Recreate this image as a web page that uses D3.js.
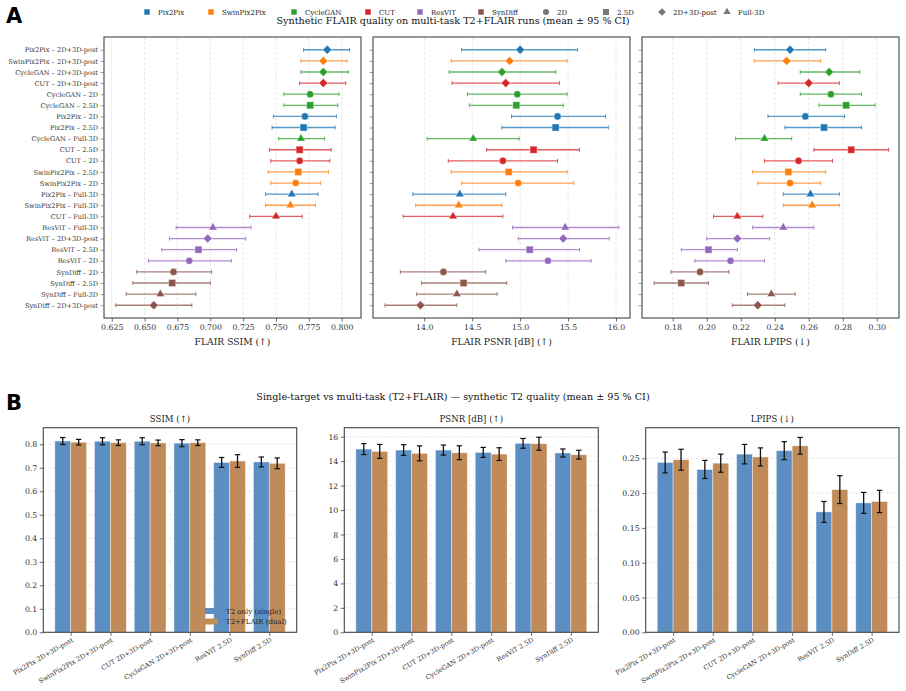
<!DOCTYPE html>
<html><head><meta charset="utf-8">
<script src="https://cdn.jsdelivr.net/npm/d3@7"></script>
<style>
body{margin:0;background:#fff;}
svg{display:block;font-family:"DejaVu Serif",serif;}
</style></head>
<body><svg id="c" width="906" height="691"></svg>
<script>
// ---------- DATA (Panel A) ----------
const models = ["Pix2Pix","SwinPix2Pix","CycleGAN","CUT","ResViT","SynDiff"];
const modelColors = ["#1f77b4","#ff7f0e","#2ca02c","#d62728","#9467bd","#8c564b"];
const dims = ["2D","2.5D","2D+3D-post","Full-3D"];
const rowModel = ["Pix2Pix","SwinPix2Pix","CycleGAN","CUT","CycleGAN","CycleGAN","Pix2Pix","Pix2Pix","CycleGAN","CUT","CUT","SwinPix2Pix","SwinPix2Pix","Pix2Pix","SwinPix2Pix","CUT","ResViT","ResViT","ResViT","ResViT","SynDiff","SynDiff","SynDiff","SynDiff"];
const rowDim = ["2D+3D-post","2D+3D-post","2D+3D-post","2D+3D-post","2D","2.5D","2D","2.5D","Full-3D","2.5D","2D","2.5D","2D","Full-3D","Full-3D","Full-3D","Full-3D","2D+3D-post","2.5D","2D","2D","2.5D","Full-3D","2D+3D-post"];
const ssimMean = [0.789,0.786,0.786,0.786,0.776,0.776,0.772,0.771,0.769,0.768,0.768,0.767,0.765,0.762,0.761,0.750,0.702,0.698,0.691,0.684,0.672,0.671,0.662,0.657];
const ssimLo   = [0.771,0.769,0.769,0.768,0.756,0.756,0.748,0.747,0.752,0.745,0.746,0.744,0.746,0.742,0.742,0.730,0.674,0.669,0.663,0.653,0.644,0.641,0.636,0.628];
const ssimHi   = [0.806,0.804,0.805,0.803,0.798,0.797,0.796,0.795,0.787,0.792,0.791,0.790,0.784,0.782,0.780,0.770,0.731,0.727,0.720,0.716,0.701,0.700,0.689,0.686];
const psnrMean = [15.00,14.89,14.81,14.85,14.97,14.96,15.39,15.37,14.51,15.14,14.82,14.88,14.98,14.37,14.36,14.30,15.47,15.45,15.10,15.29,14.20,14.41,14.34,13.96];
const psnrLo   = [14.39,14.28,14.26,14.29,14.45,14.47,14.91,14.81,14.03,14.65,14.25,14.28,14.39,13.88,13.91,13.78,14.92,14.98,14.57,14.85,13.75,13.97,13.92,13.59];
const psnrHi   = [15.60,15.49,15.37,15.41,15.49,15.45,15.89,15.92,14.99,15.62,15.39,15.49,15.56,14.85,14.81,14.82,16.03,15.93,15.62,15.74,14.64,14.86,14.76,14.34];
const lpipsMean= [0.249,0.247,0.272,0.260,0.273,0.282,0.258,0.269,0.234,0.285,0.254,0.248,0.249,0.261,0.262,0.218,0.245,0.218,0.201,0.214,0.196,0.185,0.238,0.230];
const lpipsLo  = [0.228,0.228,0.255,0.242,0.255,0.266,0.236,0.246,0.217,0.263,0.234,0.227,0.230,0.245,0.245,0.204,0.227,0.200,0.185,0.193,0.179,0.169,0.224,0.215];
const lpipsHi  = [0.270,0.267,0.290,0.278,0.291,0.299,0.281,0.291,0.250,0.307,0.274,0.270,0.267,0.278,0.278,0.233,0.263,0.237,0.218,0.234,0.213,0.201,0.252,0.246];
const ssimTicks = [0.625,0.650,0.675,0.700,0.725,0.750,0.775,0.800];
const psnrTicks = [14.0,14.5,15.0,15.5,16.0];
const lpipsTicks = [0.18,0.20,0.22,0.24,0.26,0.28,0.30];

// ---------- DATA (Panel B) ----------
const barCategories = ["Pix2Pix 2D+3D-post","SwinPix2Pix 2D+3D-post","CUT 2D+3D-post","CycleGAN 2D+3D-post","ResViT 2.5D","SynDiff 2.5D"];
const seriesNames = ["T2 only (single)","T2+FLAIR (dual)"];
const ssimSingle = [0.814,0.813,0.813,0.805,0.723,0.725];
const ssimSingleCI = [0.015,0.015,0.015,0.015,0.021,0.021];
const ssimDual = [0.809,0.807,0.806,0.807,0.729,0.719];
const ssimDualCI = [0.012,0.012,0.012,0.012,0.027,0.023];
const psnrSingle = [14.99,14.91,14.91,14.72,15.46,14.67];
const psnrSingleCI = [0.45,0.44,0.41,0.41,0.40,0.33];
const psnrDual = [14.80,14.64,14.69,14.58,15.43,14.53];
const psnrDualCI = [0.57,0.61,0.57,0.52,0.53,0.36];
const lpipsSingle = [0.244,0.234,0.256,0.261,0.173,0.186];
const lpipsSingleCI = [0.015,0.013,0.014,0.013,0.015,0.015];
const lpipsDual = [0.248,0.243,0.252,0.268,0.205,0.188];
const lpipsDualCI = [0.015,0.013,0.013,0.012,0.020,0.016];
const bSsimTicks = [0.0,0.1,0.2,0.3,0.4,0.5,0.6,0.7,0.8];
const bPsnrTicks = [0,2,4,6,8,10,12,14,16];
const bLpipsTicks = [0.00,0.05,0.10,0.15,0.20,0.25];

// ---------- DRAW ----------
const svg = d3.select("#c");
const colorOf = d3.scaleOrdinal().domain(models).range(modelColors);
const frameColor = "#444", tickText = "#333", gridColor = "#ddd";

function symbolPath(dim, cx, cy, scale) {
  const s = scale || 1;
  if (dim === "2D") return d3.symbol(d3.symbolCircle, 40*s*s)();
  if (dim === "2.5D") return d3.symbol(d3.symbolSquare, 50*s*s)();
  if (dim === "2D+3D-post") return d3.symbol(d3.symbolSquare, 40*s*s)();
  return d3.symbol(d3.symbolTriangle, 32*s*s)();
}
function symbolRot(dim){ return dim === "2D+3D-post" ? 45 : 0; }

// Letters
svg.append("text").attr("x",6).attr("y",23).attr("font-family","DejaVu Sans").attr("font-weight","bold").attr("font-size",21).attr("fill","#000").text("A");
svg.append("text").attr("x",6).attr("y",410).attr("font-family","DejaVu Sans").attr("font-weight","bold").attr("font-size",21).attr("fill","#000").text("B");

// Top title
svg.append("text").attr("x",453).attr("y",24).attr("text-anchor","middle").attr("font-size",9.6).attr("fill","#111")
  .text("Synthetic FLAIR quality on multi-task T2+FLAIR runs (mean ± 95 % CI)");

// Legend top
const legItems = models.map((m,i)=>({label:m, kind:"model", color:modelColors[i]}))
  .concat(dims.map(d=>({label:d, kind:"dim", dim:d})));
const legX = [147,211,294,368,420,481,546,606,662,727];
const leg = svg.append("g");
legItems.forEach((it,i)=>{
  const g = leg.append("g").attr("transform",`translate(${legX[i]},12)`);
  if (it.kind==="model") {
    g.append("path").attr("d",d3.symbol(d3.symbolSquare,30)()).attr("fill",it.color);
  } else {
    g.append("path").attr("d",symbolPath(it.dim,0,0,0.85)).attr("transform",`rotate(${symbolRot(it.dim)})`).attr("fill","#777");
  }
  g.append("text").attr("x",11).attr("y",2.5).attr("font-size",7).attr("fill","#222").text(it.label);
});

// Top panels
const nRows = rowModel.length;
const yTop = d3.scaleLinear().domain([-1.15, nRows-1+1.15]).range([37,318]);
const topPanels = [
  {x0:104,x1:361,domain:[0.6191,0.8147],mean:ssimMean,lo:ssimLo,hi:ssimHi,ticks:ssimTicks,fmt:d3.format(".3f"),label:"FLAIR SSIM (↑)",labels:true},
  {x0:373,x1:630,domain:[13.465,16.146],mean:psnrMean,lo:psnrLo,hi:psnrHi,ticks:psnrTicks,fmt:d3.format(".1f"),label:"FLAIR PSNR [dB] (↑)",labels:false},
  {x0:642,x1:899,domain:[0.1619,0.3131],mean:lpipsMean,lo:lpipsLo,hi:lpipsHi,ticks:lpipsTicks,fmt:d3.format(".2f"),label:"FLAIR LPIPS (↓)",labels:false}
];
topPanels.forEach(p=>{
  const x = d3.scaleLinear().domain(p.domain).range([p.x0,p.x1]);
  const g = svg.append("g");
  // grid
  g.selectAll(".grid").data(p.ticks).enter().append("line")
    .attr("x1",d=>x(d)).attr("x2",d=>x(d)).attr("y1",37).attr("y2",318)
    .attr("stroke",gridColor).attr("stroke-width",0.7).attr("stroke-dasharray","3,2");
  // x axis
  const xa = g.append("g").attr("transform","translate(0,318)")
    .call(d3.axisBottom(x).tickValues(p.ticks).tickFormat(p.fmt).tickSize(3.5).tickPadding(2.5));
  xa.select(".domain").remove();
  xa.selectAll("line").attr("stroke",frameColor).attr("stroke-width",0.8);
  xa.selectAll("text").attr("font-family","DejaVu Serif").attr("font-size",7.8).attr("fill",tickText);
  // y axis
  const ya = g.append("g").attr("transform",`translate(${p.x0},0)`)
    .call(d3.axisLeft(yTop).tickValues(d3.range(nRows)).tickSize(3.5).tickPadding(2.5)
      .tickFormat(i=> p.labels ? `${rowModel[i]} – ${rowDim[i]}` : ""));
  ya.select(".domain").remove();
  ya.selectAll("line").attr("stroke","#888").attr("stroke-width",0.8);
  ya.selectAll("text").attr("font-family","DejaVu Serif").attr("font-size",6.6).attr("fill",tickText);
  // error bars
  const rows = d3.range(nRows);
  g.selectAll(".eb").data(rows).enter().append("line")
    .attr("x1",i=>x(p.lo[i])).attr("x2",i=>x(p.hi[i])).attr("y1",i=>yTop(i)).attr("y2",i=>yTop(i))
    .attr("stroke",i=>colorOf(rowModel[i])).attr("stroke-width",1.3).attr("stroke-opacity",0.75);
  ["lo","hi"].forEach(k=>{
    g.selectAll(".cap"+k).data(rows).enter().append("line")
      .attr("x1",i=>x(p[k][i])).attr("x2",i=>x(p[k][i])).attr("y1",i=>yTop(i)-2).attr("y2",i=>yTop(i)+2)
      .attr("stroke",i=>colorOf(rowModel[i])).attr("stroke-width",1).attr("stroke-opacity",0.75);
  });
  // markers
  g.selectAll(".mk").data(rows).enter().append("path")
    .attr("d",i=>symbolPath(rowDim[i]))
    .attr("transform",i=>`translate(${x(p.mean[i])},${yTop(i)}) rotate(${symbolRot(rowDim[i])})`)
    .attr("fill",i=>colorOf(rowModel[i]))
    .attr("stroke","#fff").attr("stroke-width",0.7).attr("stroke-opacity",0.6);
  // frame
  g.append("rect").attr("x",p.x0).attr("y",37).attr("width",p.x1-p.x0).attr("height",318-37)
    .attr("fill","none").attr("stroke",frameColor).attr("stroke-width",1.1);
  // label
  g.append("text").attr("x",(p.x0+p.x1)/2).attr("y",345).attr("text-anchor","middle")
    .attr("font-size",9.2).attr("fill","#222").text(p.label);
});

// Bottom title
svg.append("text").attr("x",453).attr("y",400).attr("text-anchor","middle").attr("font-size",9.6).attr("fill","#111")
  .text("Single-target vs multi-task (T2+FLAIR) — synthetic T2 quality (mean ± 95 % CI)");

const barColors = ["#5b8ec2","#c08b58"];
const bTop = 427.7, bBot = 632.3;
const botPanels = [
  {x0:43.3,x1:296.7,ymax:0.8707,s:ssimSingle,sc:ssimSingleCI,d:ssimDual,dc:ssimDualCI,ticks:bSsimTicks,fmt:d3.format(".1f"),title:"SSIM (↑)",legend:true},
  {x0:344.3,x1:598.3,ymax:16.74,s:psnrSingle,sc:psnrSingleCI,d:psnrDual,dc:psnrDualCI,ticks:bPsnrTicks,fmt:d3.format("d"),title:"PSNR [dB] (↑)",legend:false},
  {x0:645.7,x1:899,ymax:0.294,s:lpipsSingle,sc:lpipsSingleCI,d:lpipsDual,dc:lpipsDualCI,ticks:bLpipsTicks,fmt:d3.format(".2f"),title:"LPIPS (↓)",legend:false}
];
botPanels.forEach(p=>{
  const x = d3.scaleLinear().domain([-0.69,5.69]).range([p.x0,p.x1]);
  const y = d3.scaleLinear().domain([0,p.ymax]).range([bBot,bTop]);
  const g = svg.append("g");
  g.selectAll(".grid").data(p.ticks).enter().append("line")
    .attr("x1",p.x0).attr("x2",p.x1).attr("y1",d=>y(d)).attr("y2",d=>y(d))
    .attr("stroke",gridColor).attr("stroke-width",0.7).attr("stroke-dasharray","3,2");
  const ya = g.append("g").attr("transform",`translate(${p.x0},0)`)
    .call(d3.axisLeft(y).tickValues(p.ticks).tickFormat(p.fmt).tickSize(3.5).tickPadding(2.5));
  ya.select(".domain").remove();
  ya.selectAll("line").attr("stroke",frameColor).attr("stroke-width",0.8);
  ya.selectAll("text").attr("font-family","DejaVu Serif").attr("font-size",7.8).attr("fill",tickText);
  const xa = g.append("g").attr("transform",`translate(0,${bBot})`)
    .call(d3.axisBottom(x).tickValues(d3.range(barCategories.length)).tickFormat("").tickSize(3.5));
  xa.select(".domain").remove();
  xa.selectAll("line").attr("stroke",frameColor).attr("stroke-width",0.8);
  // rotated category labels
  g.selectAll(".cl").data(barCategories).enter().append("text")
    .attr("transform",(d,i)=>`translate(${x(i)+3},${bBot+9}) rotate(-30)`)
    .attr("text-anchor","end").attr("font-size",6.6).attr("fill",tickText).text(d=>d);
  const series = [{v:p.s,c:p.sc,off:-0.2},{v:p.d,c:p.dc,off:0.2}];
  series.forEach((s,si)=>{
    const bw = x(0.4)-x(0);
    g.selectAll(".b"+si).data(s.v).enter().append("rect")
      .attr("x",(d,i)=>x(i+s.off)-bw/2).attr("width",bw)
      .attr("y",d=>y(d)).attr("height",d=>bBot-y(d))
      .attr("fill",barColors[si]).attr("stroke","#fff").attr("stroke-width",0.8).attr("stroke-opacity",0.5);
  });
  series.forEach((s,si)=>{
    s.v.forEach((v,i)=>{
      const cx = x(i+s.off);
      g.append("line").attr("x1",cx).attr("x2",cx).attr("y1",y(v-s.c[i])).attr("y2",y(v+s.c[i]))
        .attr("stroke","#111").attr("stroke-width",1.3);
      [v-s.c[i], v+s.c[i]].forEach(e=>{
        g.append("line").attr("x1",cx-2.7).attr("x2",cx+2.7).attr("y1",y(e)).attr("y2",y(e))
          .attr("stroke","#111").attr("stroke-width",1.2);
      });
    });
  });
  g.append("rect").attr("x",p.x0).attr("y",bTop).attr("width",p.x1-p.x0).attr("height",bBot-bTop)
    .attr("fill","none").attr("stroke",frameColor).attr("stroke-width",1.1);
  g.append("text").attr("x",(p.x0+p.x1)/2).attr("y",422).attr("text-anchor","middle")
    .attr("font-size",8.6).attr("fill","#222").text(p.title);
  if (p.legend) {
    seriesNames.forEach((n,si)=>{
      const ly = 611 + si*10.5;
      g.append("rect").attr("x",205).attr("y",ly-3).attr("width",13).attr("height",6).attr("fill",barColors[si]);
      g.append("text").attr("x",226).attr("y",ly+2.5).attr("font-size",7).attr("fill","#222").text(n);
    });
  }
});
</script></body></html>
